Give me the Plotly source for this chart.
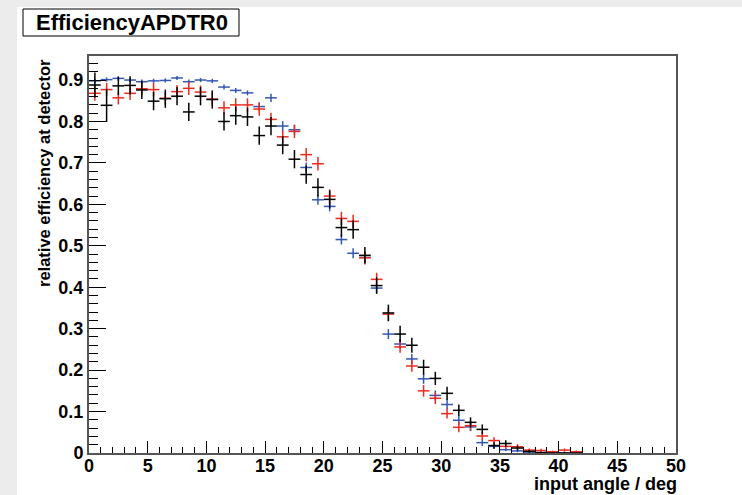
import plotly.graph_objects as go

# histogram bins: 1 deg wide, 0..42 deg
bin_lo = list(range(42))
angles = [b + 0.5 for b in bin_lo]

blue = [0.898, 0.901, 0.904, 0.900, 0.896, 0.898, 0.899, 0.905, 0.896, 0.900,
        0.898, 0.883, 0.875, 0.869, 0.836, 0.857, 0.789, 0.780, 0.689, 0.611,
        0.595, 0.515, 0.482, 0.472, 0.398, 0.287, 0.263, 0.227, 0.179, 0.139,
        0.117, 0.079, 0.063, 0.025, 0.016, 0.008, 0.005, 0.002, 0.001, 0.0,
        0.0, 0.0]
blue_err = [0.005, 0.005, 0.005, 0.005, 0.005, 0.005, 0.005, 0.005, 0.005, 0.005,
            0.005, 0.006, 0.006, 0.006, 0.010, 0.010, 0.012, 0.012, 0.012, 0.012,
            0.012, 0.012, 0.012, 0.012, 0.012, 0.012, 0.012, 0.012, 0.012, 0.012,
            0.012, 0.010, 0.010, 0.008, 0.006, 0.004, 0.003, 0.002, 0.001, 0.0,
            0.0, 0.0]

red = [0.868, 0.877, 0.857, 0.868, 0.879, 0.877, 0.856, 0.872, 0.880, 0.871,
       0.854, 0.833, 0.840, 0.840, 0.830, 0.805, 0.763, 0.776, 0.720, 0.698,
       0.620, 0.566, 0.559, 0.471, 0.419, 0.335, 0.256, 0.210, 0.150, 0.132,
       0.095, 0.062, 0.066, 0.041, 0.030, 0.016, 0.015, 0.007, 0.006, 0.003,
       0.007, 0.003]
red_err = [0.018, 0.016, 0.016, 0.016, 0.016, 0.016, 0.016, 0.016, 0.016, 0.016,
           0.016, 0.016, 0.016, 0.016, 0.016, 0.016, 0.016, 0.016, 0.016, 0.016,
           0.016, 0.016, 0.016, 0.016, 0.016, 0.016, 0.014, 0.014, 0.014, 0.014,
           0.012, 0.012, 0.012, 0.010, 0.008, 0.006, 0.006, 0.004, 0.004, 0.003,
           0.004, 0.003]

black = [0.888, 0.839, 0.886, 0.887, 0.876, 0.849, 0.855, 0.861, 0.823, 0.861,
         0.853, 0.800, 0.814, 0.811, 0.766, 0.789, 0.743, 0.709, 0.672, 0.641,
         0.612, 0.544, 0.539, 0.477, 0.404, 0.338, 0.287, 0.260, 0.207, 0.180,
         0.144, 0.103, 0.074, 0.057, 0.018, 0.023, 0.012, 0.004, 0.001, 0.0,
         0.0, 0.0]
black_err = [0.030, 0.040, 0.022, 0.022, 0.022, 0.022, 0.022, 0.022, 0.022, 0.022,
             0.022, 0.022, 0.022, 0.022, 0.022, 0.022, 0.022, 0.022, 0.022, 0.022,
             0.022, 0.022, 0.022, 0.020, 0.020, 0.020, 0.020, 0.018, 0.018, 0.016,
             0.016, 0.014, 0.012, 0.012, 0.008, 0.008, 0.006, 0.003, 0.001, 0.0,
             0.0, 0.0]

x_ticks = [0, 5, 10, 15, 20, 25, 30, 35, 40, 45, 50]
y_ticks = [0, 0.1, 0.2, 0.3, 0.4, 0.5, 0.6, 0.7, 0.8, 0.9]
y_ticklabels = ["0", "0.1", "0.2", "0.3", "0.4", "0.5", "0.6", "0.7", "0.8", "0.9"]

series = [
    ("blue", blue, blue_err, "#3457b5"),
    ("red", red, red_err, "#ee2a1e"),
    ("black", black, black_err, "#000000"),
]

fig = go.Figure()
for name, vals, errs, col in series:
    fig.add_trace(go.Scatter(
        x=angles, y=vals, mode="markers", name=name,
        marker=dict(size=1, color=col),
        error_x=dict(type="constant", value=0.5, width=0, thickness=1.5, color=col),
        error_y=dict(type="data", array=errs, width=0, thickness=1.5, color=col),
        showlegend=False,
    ))

W, H = 742, 495
L, R, T, B = 89, 66, 56, 42
pw, ph = W - L - R, H - T - B

def px_x(p):
    return (p - L) / pw

def px_y(p):
    return (H - B - p) / ph

tickfont = dict(family="Liberation Sans", size=18, color="black", weight="bold")
fig.update_layout(
    width=W, height=H,
    margin=dict(l=L, r=R, t=T, b=B),
    paper_bgcolor="#ececec",
    plot_bgcolor="white",
    xaxis=dict(
        range=[0, 50], tickvals=x_ticks,
        ticks="inside", ticklen=12, tickwidth=1, tickcolor="black",
        minor=dict(dtick=1, ticks="inside", ticklen=6, tickcolor="black"),
        showgrid=False, zeroline=False,
        showline=True, linecolor="#555555", linewidth=2, mirror=True,
        tickfont=tickfont, ticklabelstandoff=-5,
    ),
    yaxis=dict(
        range=[0, 0.958], tickvals=y_ticks, ticktext=y_ticklabels,
        ticks="inside", ticklen=17, tickwidth=1, tickcolor="black",
        minor=dict(dtick=0.02, ticks="inside", ticklen=9, tickcolor="black"),
        showgrid=False, zeroline=False,
        showline=True, linecolor="#555555", linewidth=2, mirror=True,
        tickfont=tickfont,
    ),
    shapes=[
        dict(type="rect", xref="paper", yref="paper", layer="below",
             x0=px_x(17), x1=px_x(W + 5), y0=px_y(H + 5), y1=px_y(7),
             fillcolor="white", line=dict(width=0)),
        dict(type="rect", xref="paper", yref="paper",
             x0=px_x(23), x1=px_x(239), y0=px_y(36), y1=px_y(9),
             fillcolor="white", line=dict(color="black", width=1)),
    ],
    annotations=[
        dict(text="<b>EfficiencyAPDTR0</b>", xref="paper", yref="paper",
             x=px_x(132), y=px_y(22.5), xanchor="center", yanchor="middle",
             showarrow=False, font=dict(family="Liberation Sans", size=22, color="black")),
        dict(text="<b>input angle / deg</b>", xref="paper", yref="paper",
             x=px_x(679), y=px_y(484), xanchor="right", yanchor="middle",
             showarrow=False, font=dict(family="Liberation Sans", size=18, color="black")),
        dict(text="<b>relative efficiency at detector</b>", xref="paper", yref="paper",
             x=px_x(44), y=px_y(57), xanchor="center", yanchor="top", textangle=-90,
             showarrow=False, font=dict(family="Liberation Sans", size=16.5, color="black")),
    ],
)

fig.write_html("out.html")
